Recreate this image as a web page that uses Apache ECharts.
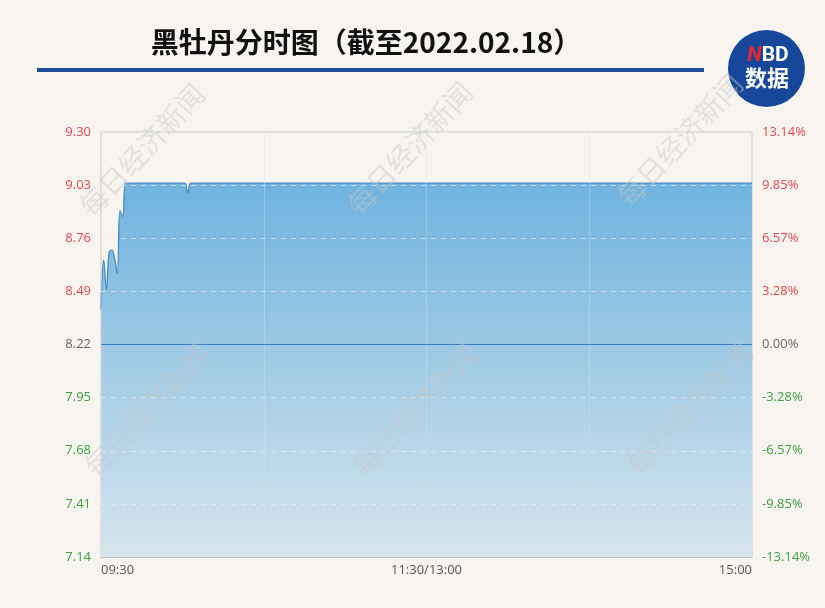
<!DOCTYPE html>
<html>
<head>
<meta charset="utf-8">
<script src="https://cdn.jsdelivr.net/npm/echarts@6/dist/echarts.min.js"></script>
<style>
html,body{margin:0;padding:0;background:#f8f5f1;}
#chart{width:825px;height:608px;}
</style>
</head>
<body>
<div id="chart"></div>
<script>
// ---- data ----
const prevClose = 8.22;
const yTicks = [7.14, 7.41, 7.68, 7.95, 8.22, 8.49, 8.76, 9.03, 9.30];
const xTickLabels = ['09:30', '', '11:30/13:00', '', '15:00'];
// minute-by-minute price, index 0 = 09:30, 120 = 11:30/13:00, 240 = 15:00
const prices = [
  8.40, 8.65, 8.50, 8.69, 8.70, 8.66, 8.58, 8.90, 8.87, 9.04,
  9.04, 9.04, 9.04, 9.04, 9.04, 9.04, 9.04, 9.04, 9.04, 9.04,
  9.04, 9.04, 9.04, 9.04, 9.04, 9.04, 9.04, 9.04, 9.04, 9.04,
  9.04, 9.04, 8.99, 9.04, 9.04, 9.04, 9.04, 9.04, 9.04, 9.04,
  9.04, 9.04, 9.04, 9.04, 9.04, 9.04, 9.04, 9.04, 9.04, 9.04,
  9.04, 9.04, 9.04, 9.04, 9.04, 9.04, 9.04, 9.04, 9.04, 9.04,
  9.04, 9.04, 9.04, 9.04, 9.04, 9.04, 9.04, 9.04, 9.04, 9.04,
  9.04, 9.04, 9.04, 9.04, 9.04, 9.04, 9.04, 9.04, 9.04, 9.04,
  9.04, 9.04, 9.04, 9.04, 9.04, 9.04, 9.04, 9.04, 9.04, 9.04,
  9.04, 9.04, 9.04, 9.04, 9.04, 9.04, 9.04, 9.04, 9.04, 9.04,
  9.04, 9.04, 9.04, 9.04, 9.04, 9.04, 9.04, 9.04, 9.04, 9.04,
  9.04, 9.04, 9.04, 9.04, 9.04, 9.04, 9.04, 9.04, 9.04, 9.04,
  9.04, 9.04, 9.04, 9.04, 9.04, 9.04, 9.04, 9.04, 9.04, 9.04,
  9.04, 9.04, 9.04, 9.04, 9.04, 9.04, 9.04, 9.04, 9.04, 9.04,
  9.04, 9.04, 9.04, 9.04, 9.04, 9.04, 9.04, 9.04, 9.04, 9.04,
  9.04, 9.04, 9.04, 9.04, 9.04, 9.04, 9.04, 9.04, 9.04, 9.04,
  9.04, 9.04, 9.04, 9.04, 9.04, 9.04, 9.04, 9.04, 9.04, 9.04,
  9.04, 9.04, 9.04, 9.04, 9.04, 9.04, 9.04, 9.04, 9.04, 9.04,
  9.04, 9.04, 9.04, 9.04, 9.04, 9.04, 9.04, 9.04, 9.04, 9.04,
  9.04, 9.04, 9.04, 9.04, 9.04, 9.04, 9.04, 9.04, 9.04, 9.04,
  9.04, 9.04, 9.04, 9.04, 9.04, 9.04, 9.04, 9.04, 9.04, 9.04,
  9.04, 9.04, 9.04, 9.04, 9.04, 9.04, 9.04, 9.04, 9.04, 9.04,
  9.04, 9.04, 9.04, 9.04, 9.04, 9.04, 9.04, 9.04, 9.04, 9.04,
  9.04, 9.04, 9.04, 9.04, 9.04, 9.04, 9.04, 9.04, 9.04, 9.04,
  9.04
];
const titleText = '黑牡丹分时图（截至2022.02.18）';
const watermark = '每日经济新闻';

// ---- chart ----
const chart = echarts.init(document.getElementById('chart'), null, {renderer: 'canvas'});
const seriesData = prices.map((p, i) => [i, p]);

function labelColor(v) {
  const d = Math.round((v - prevClose) * 100);
  if (d > 0) return '#e8474f';
  if (d < 0) return '#3f9e3f';
  return '#666666';
}
const FONT = '"Open Sans", Lato, sans-serif';

const wmPositions = [[142, 150], [410, 148], [680, 140], [147, 410], [415, 410], [690, 408]];
const graphics = [
  {type: 'text', x: 366, y: 42, style: {text: titleText, font: 'bold 28px "Noto Sans CJK SC"', fill: '#111', align: 'center', verticalAlign: 'middle'}, z: 10},
  {type: 'rect', shape: {x: 37, y: 68, width: 667, height: 4}, style: {fill: '#1f4e9b'}, z: 10},
  {type: 'circle', shape: {cx: 766.5, cy: 68.5, r: 38.5}, style: {fill: '#17479a'}, z: 10},
  {type: 'text', x: 768, y: 56, style: {text: '{r|N}{w|BD}', align: 'center', verticalAlign: 'middle',
     rich: {r: {fill: '#e8282c', font: 'italic bold 21px Roboto, sans-serif'}, w: {fill: '#ffffff', font: 'bold 21px Roboto, sans-serif'}}}, z: 11},
  {type: 'text', x: 767, y: 78, style: {text: '数据', font: 'bold 22px "Noto Sans CJK SC"', fill: '#ffffff', align: 'center', verticalAlign: 'middle'}, z: 11}
];
wmPositions.forEach(p => graphics.push({
  type: 'text', x: p[0], y: p[1], rotation: 47 * Math.PI / 180, z: 20, silent: true,
  style: {text: watermark, font: '28px "Noto Sans CJK SC"', fill: 'rgba(200,200,200,0.45)', align: 'center', verticalAlign: 'middle'}
}));

const option = {
  backgroundColor: '#f8f5f1',
  animation: false,
  graphic: graphics,
  grid: {left: 101, right: 73, top: 132, bottom: 51, show: true, borderColor: '#c9c9c9', borderWidth: 1, backgroundColor: 'transparent'},
  xAxis: {
    type: 'value', min: 0, max: 240, interval: 60, z: 3,
    axisLine: {show: true, lineStyle: {color: '#bdbdbd'}},
    axisTick: {show: false},
    splitLine: {show: true, lineStyle: {color: 'rgba(215,225,232,0.4)', width: 1}},
    axisLabel: {
      color: '#555', fontFamily: FONT, fontSize: 13, margin: 7,
      alignMinLabel: 'left', alignMaxLabel: 'right',
      formatter: v => xTickLabels[Math.round(v / 60)] || ''
    }
  },
  yAxis: [
    {
      type: 'value', min: yTicks[0], max: yTicks[yTicks.length - 1], interval: 0.27, z: 3,
      axisLine: {show: false}, axisTick: {show: false},
      splitLine: {show: true, lineStyle: {color: 'rgba(235,240,244,0.7)', type: [5, 5], width: 1}},
      axisLabel: {fontFamily: FONT, fontSize: 13, margin: 10, color: v => labelColor(v), formatter: v => Number(v).toFixed(2)}
    },
    {
      type: 'value', min: yTicks[0], max: yTicks[yTicks.length - 1], interval: 0.27, position: 'right', z: 3,
      axisLine: {show: false}, axisTick: {show: false}, splitLine: {show: false},
      axisLabel: {fontFamily: FONT, fontSize: 13, margin: 10, color: v => labelColor(v),
        formatter: v => ((v - prevClose) / prevClose * 100).toFixed(2) + '%'}
    }
  ],
  series: [{
    type: 'line', data: seriesData, yAxisIndex: 0, smooth: 0.4, showSymbol: false,
    lineStyle: {color: '#4a89c3', width: 1.3},
    areaStyle: {
      origin: 'start', opacity: 1,
      color: new echarts.graphic.LinearGradient(0, 0, 0, 1, [
        {offset: 0, color: '#6fb3de'},
        {offset: 1, color: '#d6e5ed'}
      ])
    },
    markLine: {
      silent: true, symbol: 'none', label: {show: false},
      lineStyle: {color: '#3d7dc3', type: 'solid', width: 1.2},
      data: [{yAxis: prevClose}]
    },
    z: 2
  }]
};
chart.setOption(option);
</script>
</body>
</html>
